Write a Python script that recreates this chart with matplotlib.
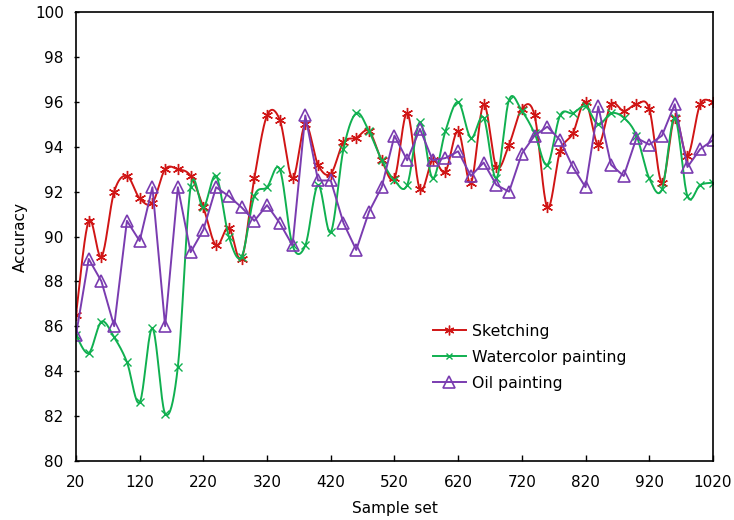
import numpy as np
import matplotlib
matplotlib.use("Agg")
import matplotlib.pyplot as plt

sample_set = list(range(20, 1021, 20))

sketching = [86.5, 90.7, 89.1, 92.0, 92.7, 91.7, 91.5, 93.0, 93.0, 92.7,
             91.3, 89.6, 90.4, 89.0, 92.6, 95.4, 95.2, 92.6, 95.0, 93.2,
             92.8, 94.2, 94.4, 94.7, 93.4, 92.6, 95.5, 92.1, 93.4, 92.9,
             94.7, 92.4, 95.9, 93.1, 94.1, 95.7, 95.4, 91.3, 93.8, 94.6,
             96.0, 94.1, 95.9, 95.6, 95.9, 95.7, 92.4, 95.3, 93.6, 95.9,
             96.0]

watercolor = [85.6, 84.8, 86.2, 85.5, 84.4, 82.6, 85.9, 82.1, 84.2, 92.2,
              91.3, 92.7, 90.0, 89.1, 91.8, 92.2, 93.0, 89.6, 89.6, 92.3,
              90.2, 93.9, 95.5, 94.7, 93.4, 92.5, 92.3, 95.1, 92.6, 94.7,
              96.0, 94.4, 95.3, 92.6, 96.1, 95.6, 94.6, 93.2, 95.4, 95.5,
              95.8, 95.0, 95.5, 95.3, 94.5, 92.6, 92.1, 95.3, 91.8, 92.3,
              92.4]

oil = [85.6, 89.0, 88.0, 86.0, 90.7, 89.8, 92.2, 86.0, 92.2, 89.3,
       90.3, 92.2, 91.8, 91.3, 90.7, 91.4, 90.6, 89.6, 95.4, 92.5,
       92.5, 90.6, 89.4, 91.1, 92.2, 94.5, 93.4, 94.8, 93.4, 93.5,
       93.8, 92.7, 93.3, 92.3, 92.0, 93.7, 94.5, 94.9, 94.3, 93.1,
       92.2, 95.8, 93.2, 92.7, 94.4, 94.1, 94.5, 95.9, 93.1, 93.9,
       94.3]


def smooth(x, y, n=20):
    # Catmull-Rom style smoothing, like a spreadsheet "smoothed line"
    x = np.asarray(x, float)
    y = np.asarray(y, float)
    px = np.concatenate([[x[0]], x, [x[-1]]])
    py = np.concatenate([[y[0]], y, [y[-1]]])
    xs, ys = [], []
    t = np.linspace(0, 1, n, endpoint=False)
    for i in range(1, len(px) - 2):
        p0, p1, p2, p3 = (np.array([px[j], py[j]]) for j in (i - 1, i, i + 1, i + 2))
        c1 = p1 + (p2 - p0) / 6
        c2 = p2 - (p3 - p1) / 6
        b = ((1 - t) ** 3)[:, None] * p1 + (3 * (1 - t) ** 2 * t)[:, None] * c1 \
            + (3 * (1 - t) * t ** 2)[:, None] * c2 + (t ** 3)[:, None] * p2
        xs.append(b[:, 0])
        ys.append(b[:, 1])
    xs.append([x[-1]])
    ys.append([y[-1]])
    return np.concatenate(xs), np.concatenate(ys)


plt.rcParams["font.family"] = ["DejaVu Sans"]
plt.rcParams["font.size"] = 11

red = "#d01515"
green = "#10b050"
purple = "#7a3cb0"

fig = plt.figure(figsize=(7.34, 5.2), dpi=100)
ax = fig.add_axes([0.1035, 0.114, 0.8678, 0.8623])

sx, sy = smooth(sample_set, sketching)
ax.plot(sx, sy, color=red, lw=1.4)
ax.plot(sample_set, sketching, ls="none", marker=(6, 2, 0), ms=8, mew=1.0, color=red)

wx, wy = smooth(sample_set, watercolor)
ax.plot(wx, wy, color=green, lw=1.4)
ax.plot(sample_set, watercolor, ls="none", marker="x", ms=6, mew=1.0, color=green)

ax.plot(sample_set, oil, color=purple, lw=1.4, marker="^", ms=9,
        mfc="none", mew=1.2)

# legend handles
h1, = ax.plot([], [], color=red, lw=1.4, marker=(6, 2, 0), ms=7, mew=1.0)
h2, = ax.plot([], [], color=green, lw=1.4, marker="x", ms=5, mew=1.0)
h3, = ax.plot([], [], color=purple, lw=1.4, marker="^", ms=8, mfc="none", mew=1.2)
ax.legend([h1, h2, h3], ["Sketching", "Watercolor painting", "Oil painting"],
          loc="upper left", bbox_to_anchor=(0.538, 0.337), frameon=False,
          fontsize=11.3, handlelength=2.1, labelspacing=0.7, handletextpad=0.4)

ax.set_xlim(20, 1020)
ax.set_ylim(80, 100)
ax.set_xticks(range(20, 1021, 100))
ax.set_yticks(range(80, 101, 2))
ax.tick_params(axis="x", direction="in", length=4.3, width=1, pad=10, top=False)
ax.tick_params(axis="y", direction="inout", length=3.6, width=1, pad=7, right=False)
for s in ax.spines.values():
    s.set_linewidth(1.2)
ax.set_xlabel("Sample set", labelpad=8)
ax.set_ylabel("Accuracy", labelpad=5)

fig.savefig("out.png", dpi=100)
